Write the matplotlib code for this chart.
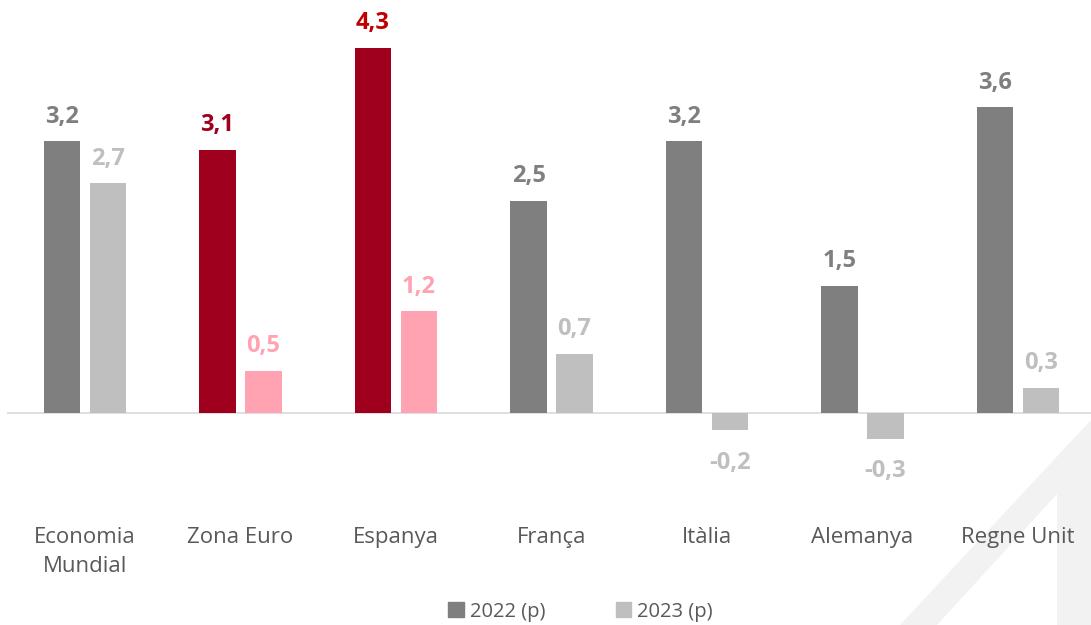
import numpy as np
import matplotlib.pyplot as plt
from matplotlib.patches import Patch, Polygon

plt.rcParams['font.family'] = ['Open Sans', 'DejaVu Sans']

categories = ["Economia\nMundial", "Zona Euro", "Espanya", "França", "Itàlia", "Alemanya", "Regne Unit"]
vals_2022 = [3.2, 3.1, 4.3, 2.5, 3.2, 1.5, 3.6]
vals_2023 = [2.7, 0.5, 1.2, 0.7, -0.2, -0.3, 0.3]
series_names = ["2022 (p)", "2023 (p)"]

GRAY_DARK = "#7f7f7f"
GRAY_LIGHT = "#bfbfbf"
RED = "#9e001e"
PINK = "#ffa3b2"
highlight = {1, 2}

fig = plt.figure(figsize=(10.91, 6.25), dpi=100)

# faint watermark shape at bottom right (figure pixel coords)
W, H = 1091, 625
pts = [(900, 625), (1091, 420), (1091, 625), (1057, 625), (1057, 494), (937, 625)]
fig.patches.append(Polygon([(x / W, 1 - y / H) for x, y in pts], closed=True,
                           transform=fig.transFigure, facecolor="#f2f2f2",
                           edgecolor="none", zorder=-5))

# axes placement: zero line at y=413px, 85px per unit
ax = fig.add_axes([7.25 / W, 1 - 520 / H, 1088.5 / W, 520 / H])
ax.set_zorder(2)
ax.patch.set_alpha(0)
ax.set_xlim(-0.5, 6.5)
ax.set_ylim(-107 / 85, 413 / 85)

x = np.arange(len(categories))
bw = 0.232
off = 0.148

c22 = [RED if i in highlight else GRAY_DARK for i in range(len(x))]
c23 = [PINK if i in highlight else GRAY_LIGHT for i in range(len(x))]
ax.bar(x - off, vals_2022, bw, color=c22, zorder=2)
ax.bar(x + off, vals_2023, bw, color=c23, zorder=2)
ax.axhline(0, color="#d9d9d9", lw=1.2, zorder=1)

lab22 = list(c22)
lab22[2] = "#c00000"
for i in range(len(x)):
    for xi, v, col in ((x[i] - off, vals_2022[i], lab22[i]), (x[i] + off, vals_2023[i], c23[i])):
        txt = f"{v:.1f}".replace(".", ",")
        if v >= 0:
            ax.annotate(txt, (xi, v), xytext=(0, 9), textcoords="offset points",
                        ha="center", va="bottom", fontsize=17, fontweight="bold", color=col)
        else:
            ax.annotate(txt, (xi, v), xytext=(0, -15), textcoords="offset points",
                        ha="center", va="top", fontsize=17, fontweight="bold", color=col)

ax.set_xticks(x)
ax.set_xticklabels(categories, fontsize=16, color="#595959", linespacing=1.5)
ax.tick_params(axis="x", length=0, pad=5)
ax.set_yticks([])
for s in ax.spines.values():
    s.set_visible(False)

handles = [Patch(color=GRAY_DARK), Patch(color=GRAY_LIGHT)]
leg = fig.legend(handles, series_names, loc="center", bbox_to_anchor=(0.532, 0.021),
                 ncol=2, frameon=False, fontsize=14.5, handlelength=0.75, handleheight=0.75,
                 handletextpad=0.3, columnspacing=3.5)
for t in leg.get_texts():
    t.set_color("#595959")

fig.savefig("out.png", dpi=100)
